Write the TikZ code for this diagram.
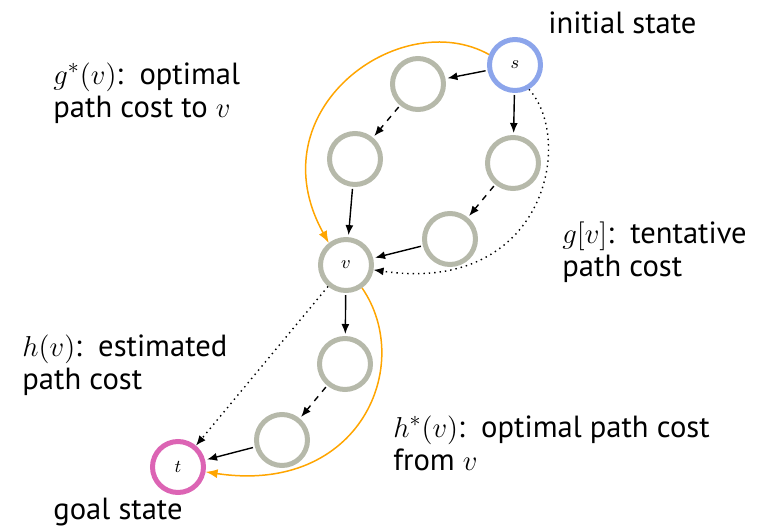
\documentclass[tikz,border=0pt]{standalone}
\usepackage{fontspec}
\setmainfont{PT Sans}
\usetikzlibrary{arrows.meta, positioning}
\definecolor{stblue}{HTML}{8CA5EB}
\definecolor{stgray}{HTML}{B6B9AA}
\definecolor{stpink}{HTML}{DC64B4}
\definecolor{storange}{HTML}{FFA500}

\begin{document}
\begin{tikzpicture}[
  x=0.5pt, y=-0.5pt,
  every node/.style={font=\fontsize{15.3}{16.5}\selectfont},
  state/.style={circle, draw=stgray, line width=2.5pt, minimum size=25.5pt, inner sep=0pt, font=\fontsize{9}{9}\selectfont},
  edge/.style={-{Latex[length=5pt,width=4pt]}, line width=0.7pt, shorten >=1pt, shorten <=1pt},
  cost/.style={-{Latex[length=6pt,width=4.5pt]}, line width=0.75pt, storange},
  guess/.style={-{Latex[length=5pt,width=4pt]}, line width=0.7pt, dotted},
  label/.style={align=left, anchor=north west, inner sep=0pt},
]
\useasboundingbox (0,0) rectangle (767,526);

\node[state, draw=stblue] (s) at (515,65) {$s$};
\node[state] (a1) at (418,84) {};
\node[state] (a2) at (355,159) {};
\node[state] (b1) at (513,163) {};
\node[state] (b2) at (450,239) {};
\node[state] (v) at (346,265) {$v$};
\node[state] (c1) at (345,364) {};
\node[state] (c2) at (282,440) {};
\node[state, draw=stpink] (t) at (178,467) {$t$};

\draw[edge] (s) -- (a1);
\draw[edge, dashed] (a1) -- (a2);
\draw[edge] (a2) -- (v);
\draw[edge] (s) -- (b1);
\draw[edge, dashed] (b1) -- (b2);
\draw[edge] (b2) -- (v);
\draw[edge] (v) -- (c1);
\draw[edge, dashed] (c1) -- (c2);
\draw[edge] (c2) -- (t);

\draw[cost] (s.158) .. controls (400,5) and (255,110) .. (v.128);
\draw[guess] (s.-60) .. controls (575,140) and (545,295) .. (v.-10);
\draw[guess] (v.-130) -- (t.50);
\draw[cost] (v.-55) .. controls (415,365) and (360,495) .. (t.-10);

\node[anchor=base west, inner sep=0pt] (init) at (548,33) {initial state};
\node[label] (gstar) at (53,62) {$g^*(v)$:\ \ optimal\\path cost to $v$};
\node[label] (gtent) at (562,221) {$g[v]$:\ \ tentative\\path cost};
\node[label] (hest) at (22,334) {$h(v)$:\ \ estimated\\path cost};
\node[label] (hstar) at (393,415) {$h^*(v)$:\ \ optimal path cost\\from $v$};
\node[anchor=base west, inner sep=0pt] (goal) at (53,519) {goal state};
\end{tikzpicture}
\end{document}
